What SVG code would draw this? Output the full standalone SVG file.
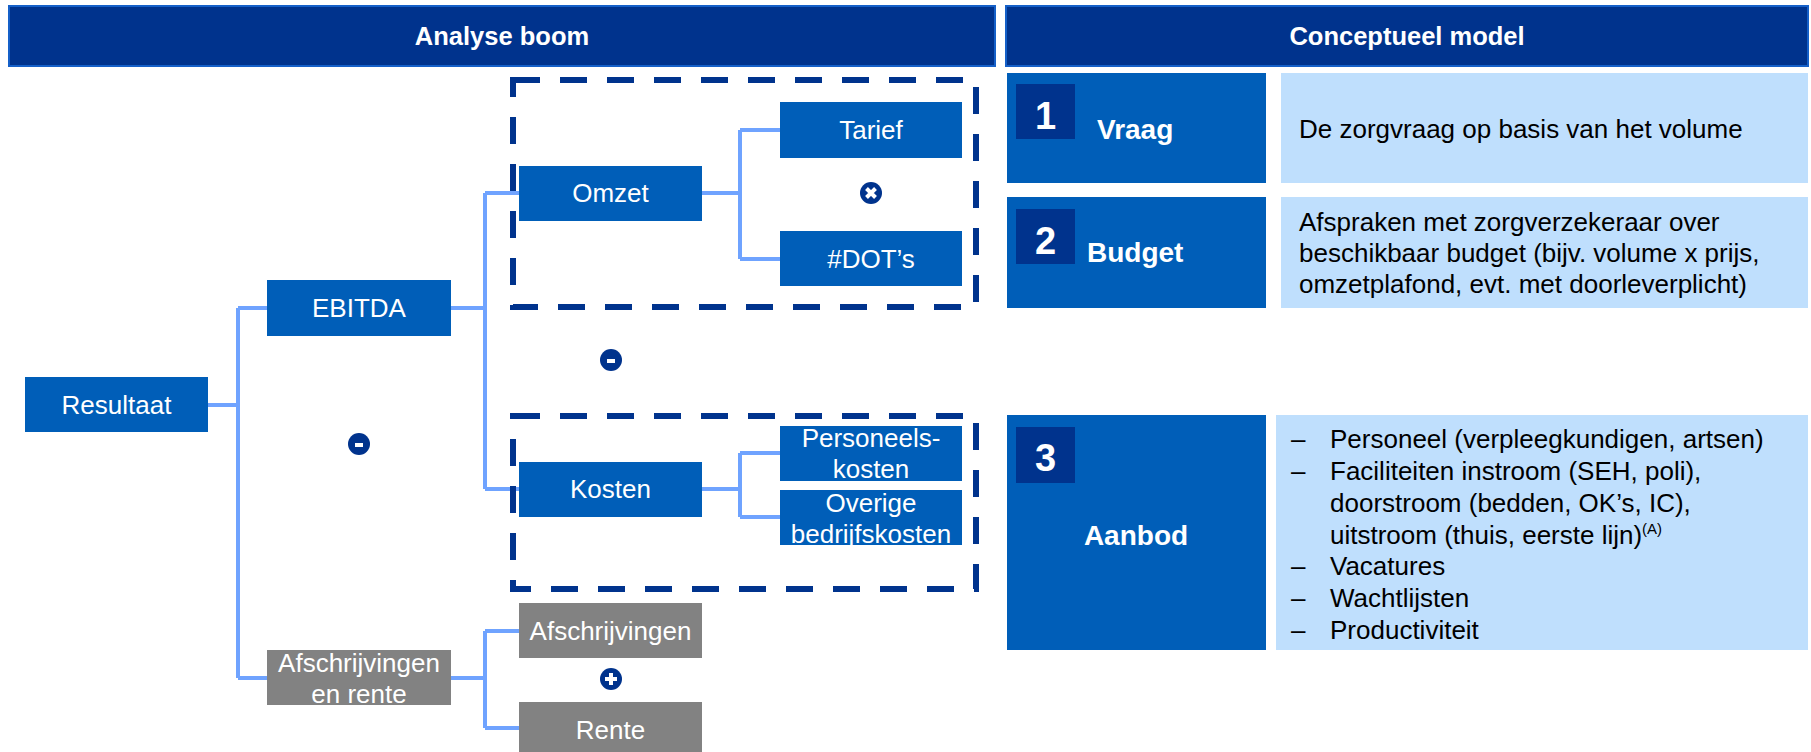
<svg xmlns="http://www.w3.org/2000/svg" width="1811" height="752" viewBox="0 0 1811 752">
<style>
.hdr{fill:#00338D;stroke:#1560C8;stroke-width:2}
.hdrt{font-family:"Liberation Sans",Arial,sans-serif;font-size:25.5px;font-weight:bold;fill:#fff;text-anchor:middle}
.nb{fill:#005EB8}
.ng{fill:#828282}
.nt{font-family:"Liberation Sans",Arial,sans-serif;font-size:26px;fill:#fff;text-anchor:middle}
.con{fill:none;stroke:#6FA3FF;stroke-width:4}
.dash{fill:none;stroke:#00338D;stroke-width:6;stroke-dasharray:27 20}
.op{fill:#00338D}
.opl{stroke:#fff;stroke-width:4;fill:none}
.lb{fill:#BFDFFD}
.num{fill:#00338D}
.numt{font-family:"Liberation Sans",Arial,sans-serif;font-size:38px;font-weight:bold;fill:#fff;text-anchor:middle}
.cat{font-family:"Liberation Sans",Arial,sans-serif;font-size:28px;font-weight:bold;fill:#fff}
.bt{font-family:"Liberation Sans",Arial,sans-serif;font-size:26px;fill:#000}
</style>

<g id="header-left"><rect class="hdr" x="9" y="6" width="986" height="60"/><text class="hdrt" x="502" y="45">Analyse boom</text></g>
<g id="header-right"><rect class="hdr" x="1006" y="6" width="802" height="60"/><text class="hdrt" x="1407" y="45">Conceptueel model</text></g>

<g id="connectors">
<path class="con" d="M208 405H238M238 308V678M238 308H267M238 678H267"/>
<path class="con" d="M451 308H485M485 193V489M485 193H519M485 489H519"/>
<path class="con" d="M702 193H740M740 130V259M740 130H780M740 259H780"/>
<path class="con" d="M702 489H740M740 453V517M740 453H780M740 517H780"/>
<path class="con" d="M451 678H485M485 631V728M485 631H519M485 728H519"/>
</g>

<g id="group-omzet"><rect class="dash" x="513" y="80" width="463" height="227"/></g>
<g id="group-kosten"><rect class="dash" x="513" y="416" width="463" height="173"/></g>

<g id="node-resultaat"><rect class="nb" x="25" y="377" width="183" height="55"/><text class="nt" x="116.5" y="414">Resultaat</text></g>
<g id="node-ebitda"><rect class="nb" x="267" y="280" width="184" height="56"/><text class="nt" x="359" y="317">EBITDA</text></g>
<g id="node-afschr-rente"><rect class="ng" x="267" y="650" width="184" height="55"/><text class="nt" x="359" y="672">Afschrijvingen</text><text class="nt" x="359" y="703">en rente</text></g>
<g id="node-omzet"><rect class="nb" x="519" y="166" width="183" height="55"/><text class="nt" x="610.5" y="202">Omzet</text></g>
<g id="node-kosten"><rect class="nb" x="519" y="462" width="183" height="55"/><text class="nt" x="610.5" y="498">Kosten</text></g>
<g id="node-tarief"><rect class="nb" x="780" y="102" width="182" height="56"/><text class="nt" x="871" y="139">Tarief</text></g>
<g id="node-dots"><rect class="nb" x="780" y="231" width="182" height="55"/><text class="nt" x="871" y="268">#DOT’s</text></g>
<g id="node-personeelskosten"><rect class="nb" x="780" y="426" width="182" height="55"/><text class="nt" x="871" y="447">Personeels-</text><text class="nt" x="871" y="478">kosten</text></g>
<g id="node-overige"><rect class="nb" x="780" y="490" width="182" height="55"/><text class="nt" x="871" y="512">Overige</text><text class="nt" x="871" y="543">bedrijfskosten</text></g>
<g id="node-afschrijvingen"><rect class="ng" x="519" y="603" width="183" height="55"/><text class="nt" x="610.5" y="640">Afschrijvingen</text></g>
<g id="node-rente"><rect class="ng" x="519" y="702" width="183" height="55"/><text class="nt" x="610.5" y="739">Rente</text></g>

<g id="op-times"><circle class="op" cx="871" cy="193" r="11"/><path class="opl" d="M866.5 188.5L875.5 197.5M875.5 188.5L866.5 197.5"/></g>
<g id="op-minus-1"><circle class="op" cx="611" cy="360" r="11"/><path class="opl" d="M607 361H615"/></g>
<g id="op-minus-2"><circle class="op" cx="359" cy="444" r="11"/><path class="opl" d="M355 445H363"/></g>
<g id="op-plus"><circle class="op" cx="611" cy="679" r="11"/><path class="opl" d="M605 679H617M611 673V685"/></g>

<g id="item-1">
<rect class="nb" x="1007" y="73" width="259" height="110"/>
<rect class="num" x="1016" y="84" width="59" height="55"/>
<text class="numt" x="1045.5" y="129">1</text>
<text class="cat" x="1097" y="139">Vraag</text>
<rect class="lb" x="1281" y="73" width="527" height="110"/>
<text class="bt" x="1299" y="138">De zorgvraag op basis van het volume</text>
</g>
<g id="item-2">
<rect class="nb" x="1007" y="197" width="259" height="111"/>
<rect class="num" x="1016" y="209" width="59" height="55"/>
<text class="numt" x="1045.5" y="254">2</text>
<text class="cat" x="1087" y="262">Budget</text>
<rect class="lb" x="1281" y="197" width="527" height="111"/>
<text class="bt" x="1299" y="231">Afspraken met zorgverzekeraar over</text>
<text class="bt" x="1299" y="262">beschikbaar budget (bijv. volume x prijs,</text>
<text class="bt" x="1299" y="293">omzetplafond, evt. met doorleverplicht)</text>
</g>
<g id="item-3">
<rect class="nb" x="1007" y="415" width="259" height="235"/>
<rect class="num" x="1016" y="427" width="59" height="56"/>
<text class="numt" x="1045.5" y="471">3</text>
<text class="cat" x="1136" y="545" text-anchor="middle">Aanbod</text>
<rect class="lb" x="1276" y="415" width="532" height="235"/>
<text class="bt" x="1291" y="448">–</text><text class="bt" x="1330" y="448">Personeel (verpleegkundigen, artsen)</text>
<text class="bt" x="1291" y="480">–</text><text class="bt" x="1330" y="480">Faciliteiten instroom (SEH, poli),</text>
<text class="bt" x="1330" y="512">doorstroom (bedden, OK’s, IC),</text>
<text class="bt" x="1330" y="544">uitstroom (thuis, eerste lijn)<tspan font-size="15" dy="-10">(A)</tspan></text>
<text class="bt" x="1291" y="575">–</text><text class="bt" x="1330" y="575">Vacatures</text>
<text class="bt" x="1291" y="607">–</text><text class="bt" x="1330" y="607">Wachtlijsten</text>
<text class="bt" x="1291" y="639">–</text><text class="bt" x="1330" y="639">Productiviteit</text>
</g>
</svg>
